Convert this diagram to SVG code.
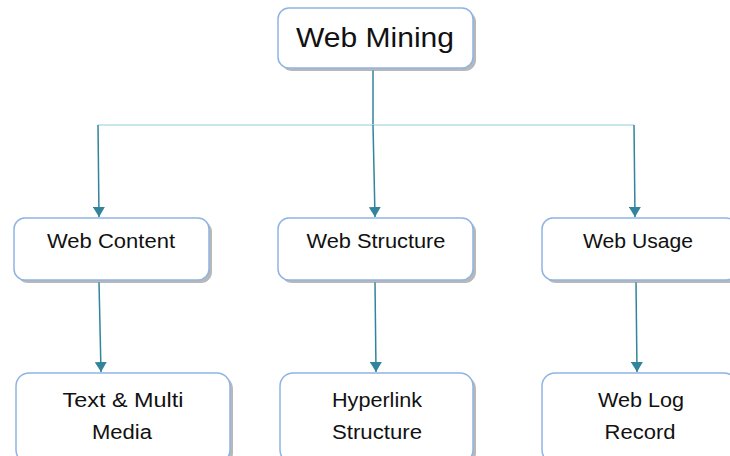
<svg xmlns="http://www.w3.org/2000/svg" width="730" height="456" viewBox="0 0 730 456">
<style>
.box{fill:#ffffff;stroke:#8eb4e3;stroke-width:1.5}
.sh{fill:#9a9a9a;opacity:0.7}
.t{font-family:"Liberation Sans",Arial,sans-serif;font-size:20px;fill:#111;text-anchor:middle}
.c{stroke:#31849b;stroke-width:1.5;fill:none}
.h{stroke:#b7dde8;stroke-width:1.5;fill:none}
</style>
<defs>
<marker id="ah" markerWidth="12" markerHeight="12" refX="10" refY="6" orient="auto" markerUnits="userSpaceOnUse">
<path d="M0,0 L10,6 L0,12 Z" fill="#31849b"/>
</marker>
</defs>
<g id="connectors">
<line class="c" x1="373" y1="70" x2="373" y2="125"/>
<line class="h" x1="98" y1="125" x2="634" y2="125"/>
<line class="c" x1="98" y1="125" x2="99" y2="217" marker-end="url(#ah)"/>
<line class="c" x1="373" y1="125" x2="375" y2="217" marker-end="url(#ah)"/>
<line class="c" x1="634" y1="125" x2="635" y2="217" marker-end="url(#ah)"/>
<line class="c" x1="99" y1="282" x2="101" y2="372" marker-end="url(#ah)"/>
<line class="c" x1="375" y1="282" x2="376" y2="372" marker-end="url(#ah)"/>
<line class="c" x1="636" y1="282" x2="637" y2="372" marker-end="url(#ah)"/>
</g>
<g id="web-mining">
<rect class="sh" x="281" y="11" width="195" height="60" rx="11"/>
<rect class="box" x="278" y="8" width="195" height="60" rx="11"/>
<text class="t" x="375" y="47" style="font-size:27px" textLength="158" lengthAdjust="spacingAndGlyphs">Web Mining</text>
</g>
<g id="web-content">
<rect class="sh" x="17" y="221" width="195" height="62" rx="11"/>
<rect class="box" x="14" y="218" width="195" height="62" rx="11"/>
<text class="t" x="111" y="248" textLength="128" lengthAdjust="spacingAndGlyphs">Web Content</text>
</g>
<g id="web-structure">
<rect class="sh" x="281" y="221" width="195" height="62" rx="11"/>
<rect class="box" x="278" y="218" width="195" height="62" rx="11"/>
<text class="t" x="376" y="248" textLength="139" lengthAdjust="spacingAndGlyphs">Web Structure</text>
</g>
<g id="web-usage">
<rect class="sh" x="545" y="221" width="195" height="62" rx="11"/>
<rect class="box" x="542" y="218" width="195" height="62" rx="11"/>
<text class="t" x="638" y="248" textLength="110" lengthAdjust="spacingAndGlyphs">Web Usage</text>
</g>
<g id="text-multimedia">
<rect class="sh" x="19" y="376" width="214" height="90" rx="13"/>
<rect class="box" x="16" y="373" width="214" height="90" rx="13"/>
<text class="t" x="123" y="407" textLength="121" lengthAdjust="spacingAndGlyphs">Text &amp; Multi</text>
<text class="t" x="122" y="439" textLength="60" lengthAdjust="spacingAndGlyphs">Media</text>
</g>
<g id="hyperlink-structure">
<rect class="sh" x="283" y="376" width="193" height="90" rx="13"/>
<rect class="box" x="280" y="373" width="193" height="90" rx="13"/>
<text class="t" x="377" y="407" textLength="90" lengthAdjust="spacingAndGlyphs">Hyperlink</text>
<text class="t" x="377" y="439" textLength="90" lengthAdjust="spacingAndGlyphs">Structure</text>
</g>
<g id="web-log-record">
<rect class="sh" x="545" y="376" width="195" height="90" rx="13"/>
<rect class="box" x="542" y="373" width="195" height="90" rx="13"/>
<text class="t" x="641" y="407" textLength="86" lengthAdjust="spacingAndGlyphs">Web Log</text>
<text class="t" x="640" y="439" textLength="71" lengthAdjust="spacingAndGlyphs">Record</text>
</g>
</svg>
